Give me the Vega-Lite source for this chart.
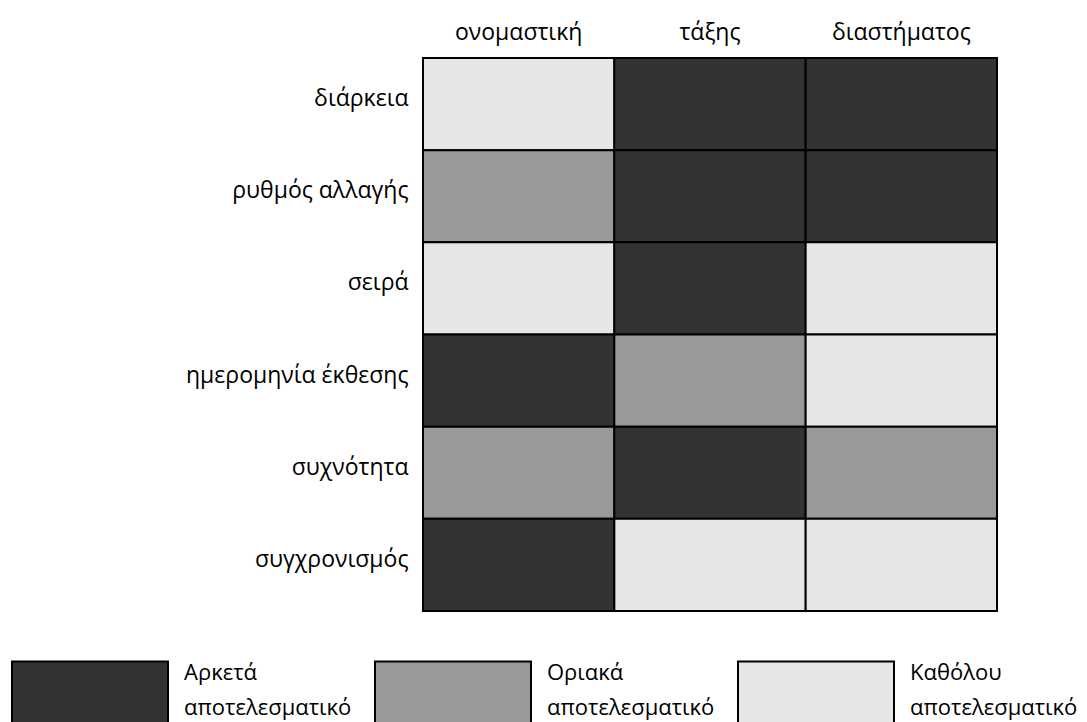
{
  "$schema": "https://vega.github.io/schema/vega-lite/v6.json",
  "autosize": {"type": "none"},
  "padding": {"left": 423, "top": 58, "right": 90, "bottom": 111},
  "width": 574,
  "height": 553,
  "background": "white",
  "config": {
    "view": {"stroke": null},
    "font": "Open Sans"
  },
  "data": {
    "values": [
      {"row": "διάρκεια", "col": "ονομαστική", "level": "Καθόλου αποτελεσματικό"},
      {"row": "διάρκεια", "col": "τάξης", "level": "Αρκετά αποτελεσματικό"},
      {"row": "διάρκεια", "col": "διαστήματος", "level": "Αρκετά αποτελεσματικό"},
      {"row": "ρυθμός αλλαγής", "col": "ονομαστική", "level": "Οριακά αποτελεσματικό"},
      {"row": "ρυθμός αλλαγής", "col": "τάξης", "level": "Αρκετά αποτελεσματικό"},
      {"row": "ρυθμός αλλαγής", "col": "διαστήματος", "level": "Αρκετά αποτελεσματικό"},
      {"row": "σειρά", "col": "ονομαστική", "level": "Καθόλου αποτελεσματικό"},
      {"row": "σειρά", "col": "τάξης", "level": "Αρκετά αποτελεσματικό"},
      {"row": "σειρά", "col": "διαστήματος", "level": "Καθόλου αποτελεσματικό"},
      {"row": "ημερομηνία έκθεσης", "col": "ονομαστική", "level": "Αρκετά αποτελεσματικό"},
      {"row": "ημερομηνία έκθεσης", "col": "τάξης", "level": "Οριακά αποτελεσματικό"},
      {"row": "ημερομηνία έκθεσης", "col": "διαστήματος", "level": "Καθόλου αποτελεσματικό"},
      {"row": "συχνότητα", "col": "ονομαστική", "level": "Οριακά αποτελεσματικό"},
      {"row": "συχνότητα", "col": "τάξης", "level": "Αρκετά αποτελεσματικό"},
      {"row": "συχνότητα", "col": "διαστήματος", "level": "Οριακά αποτελεσματικό"},
      {"row": "συγχρονισμός", "col": "ονομαστική", "level": "Αρκετά αποτελεσματικό"},
      {"row": "συγχρονισμός", "col": "τάξης", "level": "Καθόλου αποτελεσματικό"},
      {"row": "συγχρονισμός", "col": "διαστήματος", "level": "Καθόλου αποτελεσματικό"}
    ]
  },
  "mark": {"type": "rect", "stroke": "black", "strokeWidth": 2},
  "encoding": {
    "x": {
      "field": "col", "type": "nominal",
      "sort": ["ονομαστική", "τάξης", "διαστήματος"],
      "scale": {"paddingInner": 0, "paddingOuter": 0},
      "axis": {"orient": "top", "title": null, "domain": false, "ticks": false, "labelAngle": 0,
               "labelFontSize": 23, "labelColor": "black", "labelPadding": 14}
    },
    "y": {
      "field": "row", "type": "nominal",
      "sort": ["διάρκεια", "ρυθμός αλλαγής", "σειρά", "ημερομηνία έκθεσης", "συχνότητα", "συγχρονισμός"],
      "scale": {"paddingInner": 0, "paddingOuter": 0},
      "axis": {"title": null, "domain": false, "ticks": false, "labelFontSize": 23,
               "labelColor": "black", "labelPadding": 15, "labelOffset": -5, "labelLimit": 400}
    },
    "fill": {
      "field": "level", "type": "nominal",
      "scale": {
        "domain": ["Αρκετά αποτελεσματικό", "Οριακά αποτελεσματικό", "Καθόλου αποτελεσματικό"],
        "range": ["#333333", "#999999", "#e6e6e6"]
      },
      "legend": {
        "orient": "none",
        "legendX": -412,
        "legendY": 559,
        "direction": "horizontal",
        "columns": 3,
        "title": null,
        "padding": 0,
        "symbolType": "M-1,-0.449H1V0.449H-1Z",
        "symbolSize": 24336,
        "symbolStrokeColor": "black",
        "symbolStrokeWidth": 2,
        "symbolOpacity": 1,
        "labelOffset": 15,
        "labelFontSize": 22,
        "labelColor": "black",
        "labelLimit": 300,
        "labelExpr": "split(datum.label, ' ')",
        "columnPadding": 19,
        "encode": {"labels": {"update": {"lineHeight": {"value": 35}, "dy": {"value": -23}}}}
      }
    }
  }
}
